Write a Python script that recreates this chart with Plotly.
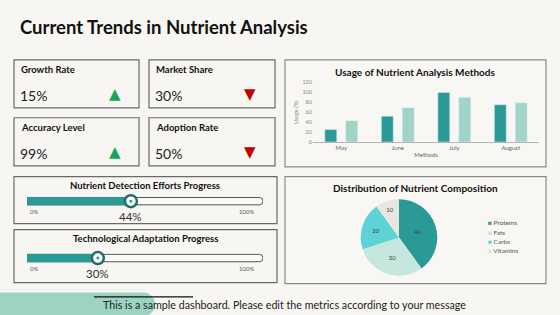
import plotly.graph_objects as go

# ---------------- data ----------------
kpi_labels = ["Growth Rate", "Market Share", "Accuracy Level", "Adoption Rate"]
kpi_values = ["15%", "30%", "99%", "50%"]
kpi_trend = ["up", "down", "up", "down"]

progress_titles = ["Nutrient Detection Efforts Progress", "Technological Adaptation Progress"]
progress_values = [44, 30]

months = ["May", "June", "July", "August"]
usage_series1 = [25, 52, 100, 75]
usage_series2 = [43, 69, 90, 79]
usage_ticks = [0, 20, 40, 60, 80, 100, 120]

nutrients = ["Proteins", "Fats", "Carbs", "Vitamins"]
nutrient_values = [40, 30, 20, 10]

# ---------------- style ----------------
W, H = 560, 315
BG = "#f7f6f2"
TEAL = "#2a9a96"
LIGHT = "#9fd4c6"
DARK_RING = "#1f6e6b"
BORDER = "#6a6a6a"
FONT = "Lato"
PIE_COLORS = [TEAL, "#c6e7de", "#5cd3d6", "#e8e6df"]


def px(x):
    return x / W


def py(y):
    return 1 - y / H


fig = go.Figure()
shapes = []
annotations = []

# title
annotations.append(dict(x=px(18), y=py(24), xref="paper", yref="paper", text="<b>Current Trends in Nutrient Analysis</b>",
                        showarrow=False, xanchor="left", yanchor="middle",
                        font=dict(family=FONT, size=18.5, color="#111")))

# KPI boxes
kpi_boxes = [(14, 58, 139, 107), (149, 58, 275, 107), (14, 117, 139, 166), (149, 117, 275, 166)]
for (x0, y0, x1, y1), lab, val, tr in zip(kpi_boxes, kpi_labels, kpi_values, kpi_trend):
    shapes.append(dict(type="rect", xref="paper", yref="paper", x0=px(x0), x1=px(x1), y0=py(y0), y1=py(y1),
                       line=dict(color=BORDER, width=1.2), fillcolor=BG, layer="below"))
    annotations.append(dict(x=px(x0 + 5), y=py(y0 + 10), xref="paper", yref="paper", text="<b>%s</b>" % lab,
                            showarrow=False, xanchor="left", yanchor="middle",
                            font=dict(family=FONT, size=9.5, color="#111")))
    annotations.append(dict(x=px(x0 + 4), y=py(y0 + 36), xref="paper", yref="paper", text=val,
                            showarrow=False, xanchor="left", yanchor="middle",
                            font=dict(family=FONT, size=14, color="#222")))
    annotations.append(dict(x=px(x0 + 101), y=py(y0 + 35), xref="paper", yref="paper",
                            text="▲" if tr == "up" else "▼",
                            showarrow=False, xanchor="center", yanchor="middle",
                            font=dict(family="DejaVu Sans", size=15,
                                      color="#1aa35a" if tr == "up" else "#c00000")))

# progress boxes
prog_boxes = [(14, 177, 277, 225), (14, 231, 277, 285)]
track_y = [202, 260]
for i, ((x0, y0, x1, y1), title, val, ty) in enumerate(zip(prog_boxes, progress_titles, progress_values, track_y)):
    shapes.append(dict(type="rect", xref="paper", yref="paper", x0=px(x0), x1=px(x1), y0=py(y0), y1=py(y1),
                       line=dict(color=BORDER, width=1.2), fillcolor=BG, layer="below"))
    annotations.append(dict(x=px(145), y=py(y0 + 9), xref="paper", yref="paper", text="<b>%s</b>" % title,
                            showarrow=False, xanchor="center", yanchor="middle",
                            font=dict(family=FONT, size=9.5, color="#111")))
    n = i + 2
    xa, ya = "x%d" % n, "y%d" % n
    fig.add_trace(go.Bar(x=[100], y=[0], orientation="h", width=0.75, offset=-0.375,
                         marker=dict(color="#fbfaf8", line=dict(color="#555", width=1), cornerradius=4),
                         xaxis=xa, yaxis=ya, showlegend=False, hoverinfo="skip"))
    fig.add_trace(go.Bar(x=[val], y=[0], orientation="h", width=0.75, offset=-0.375,
                         marker=dict(color=TEAL, line=dict(color=TEAL, width=1), cornerradius=4),
                         xaxis=xa, yaxis=ya, showlegend=False, hoverinfo="skip"))
    fig.add_trace(go.Scatter(x=[val], y=[0], mode="markers", cliponaxis=False,
                             marker=dict(size=12, color="white", line=dict(color=DARK_RING, width=2.5)),
                             xaxis=xa, yaxis=ya, showlegend=False, hoverinfo="skip"))
    fig.add_trace(go.Scatter(x=[val], y=[0], mode="markers", cliponaxis=False,
                             marker=dict(size=3, color=TEAL),
                             xaxis=xa, yaxis=ya, showlegend=False, hoverinfo="skip"))
    fig.layout["xaxis%d" % n] = dict(domain=[px(27), px(263)], range=[0, 100], visible=False,
                                     anchor=ya, fixedrange=True)
    fig.layout["yaxis%d" % n] = dict(domain=[py(ty + 5), py(ty - 5)], range=[-0.5, 0.5], visible=False,
                                     anchor=xa, fixedrange=True)
    annotations.append(dict(x=0, y=py(ty + 11), xref=xa, yref="paper", text="0%", showarrow=False,
                            xanchor="left", yanchor="middle", xshift=1,
                            font=dict(family=FONT, size=6, color="#555")))
    annotations.append(dict(x=100, y=py(ty + 11), xref=xa, yref="paper", text="100%", showarrow=False,
                            xanchor="right", yanchor="middle", xshift=-7,
                            font=dict(family=FONT, size=6, color="#555")))
    annotations.append(dict(x=val, y=py(ty + 16), xref=xa, yref="paper", text="%d%%" % val, showarrow=False,
                            xanchor="center", yanchor="middle",
                            font=dict(family=FONT, size=11.5, color="#333")))

# bar chart panel
shapes.append(dict(type="rect", xref="paper", yref="paper", x0=px(285), x1=px(546), y0=py(58), y1=py(167),
                   line=dict(color="#8a8a8a", width=1.2), fillcolor="#f8f7f4", layer="below"))
annotations.append(dict(x=px(415), y=py(70), xref="paper", yref="paper", text="<b>Usage of Nutrient Analysis Methods</b>",
                        showarrow=False, xanchor="center", yanchor="middle",
                        font=dict(family=FONT, size=10, color="#111")))
fig.add_trace(go.Bar(x=months, y=usage_series1, marker=dict(color=TEAL), showlegend=False,
                     xaxis="x", yaxis="y", name="Series 1"))
fig.add_trace(go.Bar(x=months, y=usage_series2, marker=dict(color=LIGHT), showlegend=False,
                     xaxis="x", yaxis="y", name="Series 2"))
fig.layout.xaxis = dict(domain=[px(313), px(539)], anchor="y", showline=True, linecolor="#b5b5b5",
                        linewidth=1, ticks="", tickfont=dict(family=FONT, size=6, color="#666"),
                        title=dict(text="Methods", font=dict(family=FONT, size=6, color="#666"), standoff=2),
                        fixedrange=True)
fig.layout.yaxis = dict(domain=[py(141.7), py(81)], anchor="x", range=[0, 120], tickvals=usage_ticks,
                        showgrid=False, zeroline=False, showline=False,
                        tickfont=dict(family=FONT, size=5.5, color="#888"),
                        title=dict(text="Usage (%)", font=dict(family=FONT, size=5.5, color="#888"), standoff=3),
                        fixedrange=True)

# pie panel
shapes.append(dict(type="rect", xref="paper", yref="paper", x0=px(285), x1=px(546), y0=py(177), y1=py(286),
                   line=dict(color="#8a8a8a", width=1.2), fillcolor="#f8f7f4", layer="below"))
annotations.append(dict(x=px(415), y=py(189), xref="paper", yref="paper", text="<b>Distribution of Nutrient Composition</b>",
                        showarrow=False, xanchor="center", yanchor="middle",
                        font=dict(family=FONT, size=10, color="#111")))
fig.add_trace(go.Pie(labels=nutrients, values=nutrient_values, sort=False, direction="clockwise", rotation=0,
                     domain=dict(x=[px(360), px(438)], y=[py(278), py(200)]),
                     marker=dict(colors=PIE_COLORS),
                     textinfo="value", textposition="inside", insidetextorientation="horizontal",
                     textfont=dict(family=FONT, size=6, color="#444"), hoverinfo="label+value",
                     showlegend=False))
# compact legend for the pie
for k, (name, col) in enumerate(zip(nutrients, PIE_COLORS)):
    annotations.append(dict(x=px(486), y=py(224 + k * 9.6), xref="paper", yref="paper",
                            text="<span style='color:%s'>■</span> %s" % (col, name),
                            showarrow=False, xanchor="left", yanchor="middle",
                            font=dict(family=FONT, size=6.5, color="#555")))

# footer
top, bot, xr, r = 295, 319, 143, 12
shapes.append(dict(type="path", xref="paper", yref="paper",
                   path="M 0 %f L %f %f C %f %f %f %f %f %f L 0 %f Z" % (
                       py(top), px(xr), py(top), px(xr + r * 4 / 3), py(top), px(xr + r * 4 / 3), py(bot),
                       px(xr), py(bot), py(bot)),
                   line=dict(width=0), fillcolor="#9dd3c2", layer="below"))
shapes.append(dict(type="line", xref="paper", yref="paper", x0=px(94), x1=px(193), y0=py(299.5), y1=py(299.5),
                   line=dict(color="#111", width=1.2)))
annotations.append(dict(x=px(101), y=py(307), xref="paper", yref="paper",
                        text="This is a sample dashboard. Please edit the metrics according to your message",
                        showarrow=False, xanchor="left", yanchor="middle",
                        font=dict(family=FONT, size=10.7, color="#222")))

fig.update_layout(width=W, height=H, margin=dict(l=0, r=0, t=0, b=0), paper_bgcolor=BG, plot_bgcolor="rgba(0,0,0,0)",
                  barmode="group", bargap=0.26, bargroupgap=0.43, shapes=shapes, annotations=annotations,
                  showlegend=False)

fig.write_html("out.html", config=dict(displayModeBar=False))
